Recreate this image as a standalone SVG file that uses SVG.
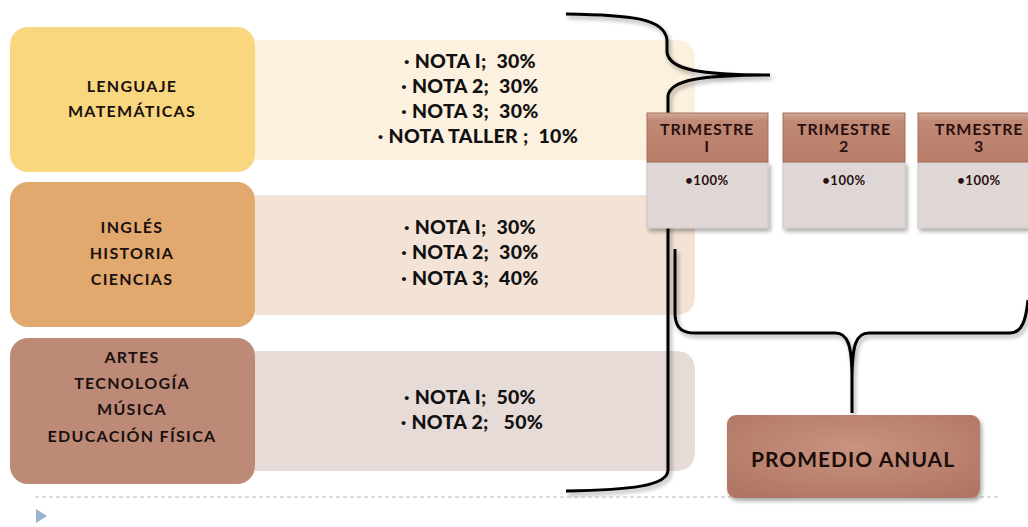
<svg xmlns="http://www.w3.org/2000/svg" width="1028" height="527" viewBox="0 0 1028 527">
<style>
text{white-space:pre}
.lbl{font-family:Lato,"Liberation Sans",sans-serif;font-weight:700;font-size:16px;fill:#1a1010;text-anchor:middle;letter-spacing:1.3px}
.nota{font-family:Lato,"Liberation Sans",sans-serif;font-weight:900;font-size:19.5px;fill:#111;text-anchor:middle;letter-spacing:0.3px}
.tri{font-family:Lato,"Liberation Sans",sans-serif;font-weight:700;font-size:16px;fill:#2a1010;text-anchor:middle;letter-spacing:0.8px}
.pct{font-family:Lato,"Liberation Sans",sans-serif;font-weight:700;font-size:13px;fill:#2a1010;text-anchor:middle;letter-spacing:0.5px}
.brace{fill:none;stroke:#000;stroke-width:3;filter:url(#sh)}
.hdr{fill:url(#hg);stroke:#a56f5c;stroke-width:1}
.bod{fill:#ded7d5;stroke:#cfc6c3;stroke-width:1}
</style>
<defs>
<filter id="sh" x="-10%" y="-10%" width="130%" height="130%">
<feGaussianBlur in="SourceAlpha" stdDeviation="2"/>
<feOffset dx="2" dy="3" result="b"/>
<feComponentTransfer><feFuncA type="linear" slope="0.35"/></feComponentTransfer>
<feMerge><feMergeNode/><feMergeNode in="SourceGraphic"/></feMerge>
</filter>
<linearGradient id="hg" x1="0" y1="0" x2="0" y2="1">
<stop offset="0" stop-color="#d4a999"/>
<stop offset="0.15" stop-color="#c08a76"/>
<stop offset="1" stop-color="#b87d68"/>
</linearGradient>
<radialGradient id="pg" cx="0.5" cy="0.4" r="0.7">
<stop offset="0" stop-color="#c89380"/>
<stop offset="1" stop-color="#b07663"/>
</radialGradient>
</defs>
<rect width="1028" height="527" fill="#fff"/>

<g id="panel1"><path d="M255 40 H675 Q695 40 695 60 V140 Q695 160 675 160 H255 Z" fill="#fcf0de"/>
<text class="nota" x="470" y="68">· NOTA I;  30%</text>
<text class="nota" x="470" y="93">· NOTA 2;  30%</text>
<text class="nota" x="470" y="118">· NOTA 3;  30%</text>
<text class="nota" x="478" y="143">· NOTA TALLER ;  10%</text></g>
<g id="panel2"><path d="M255 195 H675 Q695 195 695 215 V295 Q695 315 675 315 H255 Z" fill="#f3e3d6"/>
<text class="nota" x="470" y="234">· NOTA I;  30%</text>
<text class="nota" x="470" y="259">· NOTA 2;  30%</text>
<text class="nota" x="470" y="285">· NOTA 3;  40%</text></g>
<g id="panel3"><path d="M255 351 H675 Q695 351 695 371 V451 Q695 471 675 471 H255 Z" fill="#e7dbd7"/>
<text class="nota" x="470" y="404">· NOTA I;  50%</text>
<text class="nota" x="472" y="429">· NOTA 2;   50%</text></g>

<g id="box1"><rect x="10" y="27" width="245" height="145" rx="18" fill="#f8d77e"/>
<text class="lbl" x="132" y="92">LENGUAJE</text>
<text class="lbl" x="132" y="117">MATEMÁTICAS</text></g>
<g id="box2"><rect x="10" y="182" width="245" height="145" rx="18" fill="#e2a96e"/>
<text class="lbl" x="132" y="233">INGLÉS</text>
<text class="lbl" x="132" y="259">HISTORIA</text>
<text class="lbl" x="132" y="285">CIENCIAS</text></g>
<g id="box3"><rect x="10" y="338" width="245" height="146" rx="18" fill="#bd8a78"/>
<text class="lbl" x="132" y="363">ARTES</text>
<text class="lbl" x="132" y="389">TECNOLOGÍA</text>
<text class="lbl" x="132" y="415">MÚSICA</text>
<text class="lbl" x="132" y="442">EDUCACIÓN FÍSICA</text></g>

<g id="connectors">
<path class="brace" d="M566 14 C630 15 665 18 667 40 L667 52 C669 70 700 75 770 75 C700 75 670 80 668 96 L668 470 C668 486 630 490 566 491"/>
<path class="brace" d="M675 249 L675 315 C676 330 684 333 695 333 L835 333 C848 333 852 345 852 380 L852 413 M852 380 C852 345 856 333 869 333 L1010 333 C1022 333 1026 320 1028 300"/>
</g>

<g id="tri1"><rect class="bod" x="647" y="162" width="121" height="66" filter="url(#sh)"/>
<rect class="hdr" x="647" y="113" width="121" height="49"/>
<text class="tri" x="707" y="135">TRIMESTRE</text><text class="tri" x="707" y="152">I</text>
<text class="pct" x="707" y="185">•100%</text></g>
<g id="tri2"><rect class="bod" x="783" y="162" width="122" height="66" filter="url(#sh)"/>
<rect class="hdr" x="783" y="113" width="122" height="49"/>
<text class="tri" x="844" y="135">TRIMESTRE</text><text class="tri" x="844" y="152">2</text>
<text class="pct" x="844" y="185">•100%</text></g>
<g id="tri3"><rect class="bod" x="918" y="162" width="115" height="66" filter="url(#sh)"/>
<rect class="hdr" x="918" y="113" width="115" height="49"/>
<text class="tri" x="979" y="135">TRMESTRE</text><text class="tri" x="979" y="152">3</text>
<text class="pct" x="979" y="185">•100%</text></g>

<line x1="35" y1="497" x2="1000" y2="497" stroke="#b8b8b8" stroke-width="1" stroke-dasharray="4 3"/>
<g id="promedio"><rect x="727" y="415" width="253" height="83" rx="9" fill="url(#pg)" filter="url(#sh)"/>
<text x="853" y="467" text-anchor="middle" font-family="Lato,'Liberation Sans',sans-serif" font-weight="700" font-size="21" fill="#1a0d0a" letter-spacing="1">PROMEDIO ANUAL</text></g>
<path d="M36 509 L47 516 L36 523 Z" fill="#98b4cc"/>
</svg>
